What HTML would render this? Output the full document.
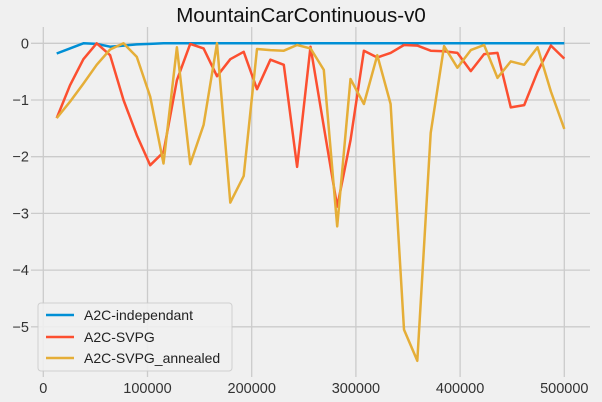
<!DOCTYPE html>
<html><head><meta charset="utf-8"><style>
body{margin:0;background:#f0f0f0;}
svg{display:block;font-family:"Liberation Sans","DejaVu Sans",sans-serif;}
</style></head><body>
<svg id="chart" width="602" height="402">
<rect width="602" height="402" fill="#f0f0f0"/>
<text x="301" y="22" text-anchor="middle" font-size="20.5" fill="#111">MountainCarContinuous-v0</text>
<g id="grid"></g><g id="ticks"></g><g id="series"></g>
<g>
<rect x="38" y="303" width="194" height="68" rx="3" fill="#f0f0f0" stroke="#cccccc" opacity="0.9"/>
<g><line x1="46" y1="315" x2="74" y2="315" stroke="#008fd5" stroke-width="2.5"/><text x="84" y="320" font-size="14" fill="#222">A2C-independant</text></g>
<g><line x1="46" y1="337" x2="74" y2="337" stroke="#fc4f30" stroke-width="2.5"/><text x="84" y="342" font-size="14" fill="#222">A2C-SVPG</text></g>
<g><line x1="46" y1="358" x2="74" y2="358" stroke="#e5ae38" stroke-width="2.5"/><text x="84" y="363" font-size="14" fill="#222">A2C-SVPG_annealed</text></g>
</g>
</svg>
<script>
const stepSize = 12820;
const blueVals = [-0.18,-0.09,0,-0.01,-0.06,-0.04,-0.02,-0.01,0,0,0,0,0,0,0,0,0,0,0,0,0,0,0,0,0,0,0,0,0,0,0,0,0,0,0,0,0,0,0];
const redVals = [-1.32,-0.74,-0.28,0,-0.21,-1.0,-1.62,-2.15,-1.92,-0.65,-0.01,-0.09,-0.58,-0.28,-0.15,-0.81,-0.29,-0.38,-2.18,-0.06,-1.47,-2.88,-1.71,-0.13,-0.25,-0.17,-0.03,-0.04,-0.13,-0.14,-0.17,-0.49,-0.19,-0.17,-1.13,-1.09,-0.5,-0.04,-0.27];
const yellowVals = [-1.32,-1.03,-0.71,-0.38,-0.11,0,-0.24,-0.94,-2.12,-0.07,-2.13,-1.44,0,-2.81,-2.34,-0.1,-0.12,-0.13,-0.03,-0.09,-0.47,-3.23,-0.63,-1.07,-0.21,-1.07,-5.05,-5.6,-1.58,-0.05,-0.43,-0.12,-0.03,-0.61,-0.32,-0.38,-0.07,-0.85,-1.51];
const xTicks = [0,100000,200000,300000,400000,500000];
const yTicks = [0,-1,-2,-3,-4,-5];
const NS="http://www.w3.org/2000/svg";
const X=v=>43.3+v*104.2/100000;
const Y=v=>43.3-v*56.7;
const L=31, R=590, T=27, B=377;
const grid=document.getElementById('grid'), ticks=document.getElementById('ticks'), ser=document.getElementById('series');
function mk(tag,attrs,parent){const e=document.createElementNS(NS,tag);for(const k in attrs)e.setAttribute(k,attrs[k]);parent.appendChild(e);return e;}
xTicks.forEach(t=>{
  const g=mk('line',{x1:X(t),x2:X(t),y1:T,y2:B,stroke:'#cbcbcb','stroke-width':1.3},grid);
  
  
  const tx=mk('text',{x:X(t),y:393,'text-anchor':'middle','font-size':14.5,fill:'#333'},ticks);
  tx.textContent=t;
  
  
});
yTicks.forEach(t=>{
  const g=mk('line',{x1:L,x2:R,y1:Y(t),y2:Y(t),stroke:'#cbcbcb','stroke-width':1.3},grid);
  
  
  const tx=mk('text',{x:29,y:Y(t)+5,'text-anchor':'end','font-size':14.5,fill:'#333'},ticks);
  tx.textContent=t<0?'\u2212'+(-t):t;
  
  
});
function line(vals,color,name){
  const pts=vals.map((v,i)=>X(stepSize*(i+1)).toFixed(1)+','+Y(v).toFixed(1)).join(' ');
  const p=mk('polyline',{points:pts,fill:'none',stroke:color,'stroke-width':2.5,'stroke-linejoin':'round'},ser);
  
  
}
line(blueVals,'#008fd5','line-a2c-independant');
line(redVals,'#fc4f30','line-a2c-svpg');
line(yellowVals,'#e5ae38','line-a2c-svpg-annealed');
</script>
</body></html>
